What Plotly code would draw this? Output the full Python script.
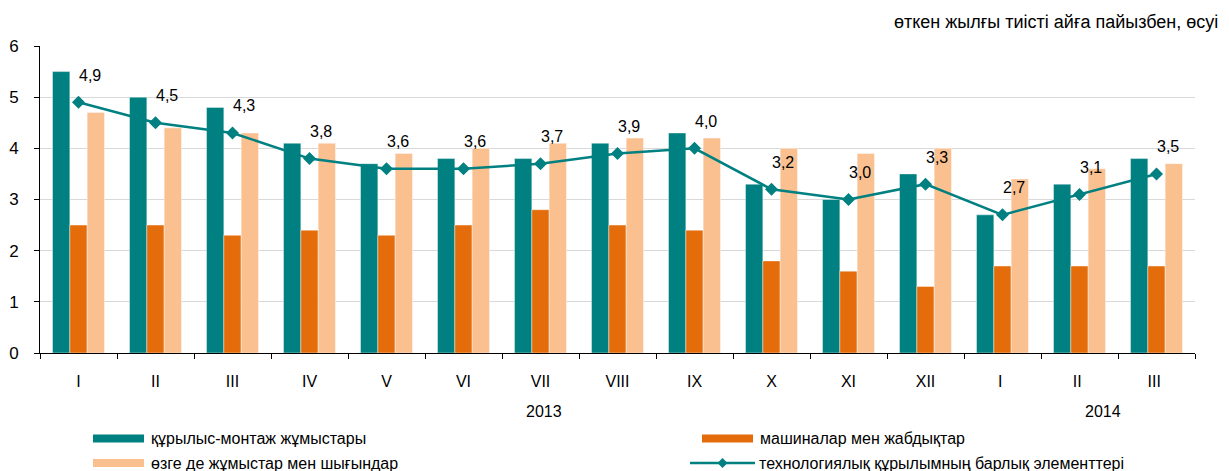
import plotly.graph_objects as go

months = ["I", "II", "III", "IV", "V", "VI", "VII", "VIII", "IX", "X", "XI", "XII", "I ", "II ", "III "]
years = ["2013", "2014"]

construction = [5.5, 5.0, 4.8, 4.1, 3.7, 3.8, 3.8, 4.1, 4.3, 3.3, 3.0, 3.5, 2.7, 3.3, 3.8]
machinery = [2.5, 2.5, 2.3, 2.4, 2.3, 2.5, 2.8, 2.5, 2.4, 1.8, 1.6, 1.3, 1.7, 1.7, 1.7]
other = [4.7, 4.4, 4.3, 4.1, 3.9, 4.0, 4.1, 4.2, 4.2, 4.0, 3.9, 4.0, 3.4, 3.6, 3.7]
total = [4.9, 4.5, 4.3, 3.8, 3.6, 3.6, 3.7, 3.9, 4.0, 3.2, 3.0, 3.3, 2.7, 3.1, 3.5]

names = [
    "құрылыс-монтаж жұмыстары",
    "машиналар мен жабдықтар",
    "өзге де жұмыстар мен шығындар",
    "технологиялық құрылымның барлық элементтері",
]
unit_note = "өткен жылғы тиісті айға пайызбен, өсуі"

TEAL = "#008080"
ORANGE = "#E46C0A"
PEACH = "#FAC090"
FONT = "Liberation Sans, Arial, sans-serif"

# page body has an 8px default margin: the figure is laid out in screen pixels
OFF = 8
PLOT_L, PLOT_R, PLOT_T, PLOT_B = 40, 1195, 46, 353  # target plot area in screen pixels
W, H = 1229 - OFF, 471 - OFF

fig = go.Figure()
for vals, col, nm in [(construction, TEAL, names[0]), (machinery, ORANGE, names[1]), (other, PEACH, names[2])]:
    fig.add_trace(go.Bar(x=months, y=vals, name=nm,
                         marker=dict(color=col, line=dict(color="rgba(255,255,255,0.7)", width=0.6))))
fig.add_trace(go.Scatter(x=months, y=total, name=names[3], mode="lines+markers",
                         line=dict(color=TEAL, width=2.5),
                         marker=dict(symbol="diamond", size=10, color=TEAL)))

# value labels
for m, v in zip(months, total):
    fig.add_annotation(x=m, y=v, xref="x", yref="y", text=f"{v:.1f}".replace(".", ","),
                       showarrow=False, xshift=11, yshift=27,
                       font=dict(family=FONT, size=16, color="#000"))

# year labels
for yr, pos in zip(years, [6.05, 13.3]):
    fig.add_annotation(x=pos, y=0, xref="x", yref="y", text=yr, showarrow=False,
                       yshift=-58, font=dict(family=FONT, size=16, color="#000"))


def px2x(px):
    return (px - PLOT_L) / (PLOT_R - PLOT_L)


def px2y(py):
    return (PLOT_B - py) / (PLOT_B - PLOT_T)


# unit note
fig.add_annotation(x=px2x(892), y=px2y(22), xref="paper", yref="paper",
                   xanchor="left", yanchor="middle", text=unit_note, showarrow=False,
                   font=dict(family=FONT, size=18, color="#000"))

# custom legend
legend_items = [
    (names[0], TEAL, "bar", 93, 438.5),
    (names[1], ORANGE, "bar", 702, 438.5),
    (names[2], PEACH, "bar", 93, 463),
    (names[3], TEAL, "line", 690, 463),
]
for nm, col, kind, x0, yc in legend_items:
    if kind == "bar":
        fig.add_shape(type="rect", xref="paper", yref="paper",
                      x0=px2x(x0), x1=px2x(x0 + 51), y0=px2y(yc - 4), y1=px2y(yc + 4),
                      fillcolor=col, line=dict(width=0))
        tx = x0 + 56
    else:
        fig.add_shape(type="line", xref="paper", yref="paper",
                      x0=px2x(x0), x1=px2x(x0 + 65), y0=px2y(yc), y1=px2y(yc),
                      line=dict(color=col, width=2.5))
        fig.add_shape(type="path", xref="paper", yref="paper",
                      path=f"M {px2x(x0+32.5-5)} {px2y(yc)} L {px2x(x0+32.5)} {px2y(yc-5)} "
                           f"L {px2x(x0+32.5+5)} {px2y(yc)} L {px2x(x0+32.5)} {px2y(yc+5)} Z",
                      fillcolor=col, line=dict(width=0))
        tx = x0 + 67
    fig.add_annotation(x=px2x(tx), y=px2y(yc), xref="paper", yref="paper", xanchor="left",
                       yanchor="middle", text=nm, showarrow=False,
                       font=dict(family=FONT, size=16, color="#000"))

fig.update_layout(
    width=W, height=H, autosize=False,
    margin=dict(l=PLOT_L - OFF, r=W - (PLOT_R - OFF), t=PLOT_T - OFF, b=H - (PLOT_B - OFF),
                autoexpand=False),
    plot_bgcolor="white", paper_bgcolor="white",
    barmode="group", bargap=0.325, bargroupgap=0,
    showlegend=False,
    font=dict(family=FONT, size=16, color="#000"),
)
fig.update_xaxes(type="category", range=[-0.5, len(months) - 0.5], tickson="boundaries",
                 ticks="outside", ticklen=5, tickcolor="#000", showline=True, linecolor="#000",
                 linewidth=1, showgrid=False, ticklabelstandoff=14, tickfont=dict(size=16),
                 automargin=False)
fig.update_yaxes(range=[0, 6], dtick=1, ticks="outside", ticklen=5, tickcolor="#000",
                 showline=True, linecolor="#000", linewidth=1, gridcolor="#D9D9D9",
                 gridwidth=1, zeroline=False, ticklabelstandoff=12, tickfont=dict(size=17),
                 automargin=False)

fig.write_html("out.html")
